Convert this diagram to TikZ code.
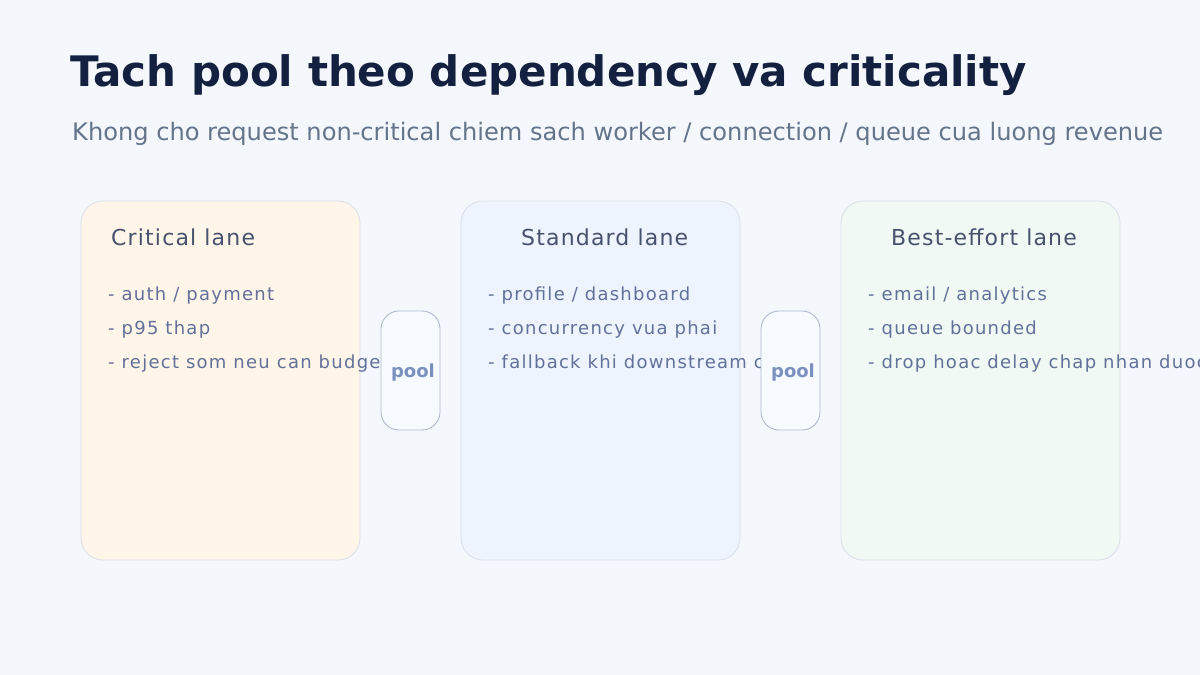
\documentclass[tikz,border=0pt]{standalone}
\usepackage{fontspec}
\setmainfont{DejaVu Sans}
\newfontfamily\bulletfont[LetterSpace=7]{DejaVu Sans}
\newfontfamily\lanefont[LetterSpace=5.3]{DejaVu Sans}
\definecolor{bg}{HTML}{F4F7FB}
\definecolor{titlec}{HTML}{13203F}
\definecolor{subc}{HTML}{64748B}
\definecolor{lanetc}{HTML}{46526E}
\definecolor{bulletc}{HTML}{62719A}
\definecolor{laneA}{HTML}{FFF5E8}
\definecolor{laneB}{HTML}{EEF4FE}
\definecolor{laneC}{HTML}{F0F9F3}
\definecolor{lanestroke}{HTML}{DCE1E9}
\definecolor{poolfill}{HTML}{F7FAFF}
\definecolor{poolstroke}{HTML}{B0BACE}
\definecolor{poolc}{HTML}{7A90C0}
\tikzset{
  lanebox/.style={draw=lanestroke, line width=0.9pt, rounded corners=22pt},
  poolbox/.style={draw=poolstroke, fill=poolfill, line width=0.9pt, rounded corners=18pt},
  lanetitle/.style={anchor=base west, inner sep=0pt, text=lanetc, font=\lanefont\fontsize{22}{26}\selectfont},
  bullet/.style={anchor=base west, inner sep=0pt, text=bulletc, font=\bulletfont\fontsize{18}{22}\selectfont},
  pooltext/.style={anchor=base, inner sep=0pt, text=poolc, font=\bfseries\fontsize{18}{21}\selectfont},
}
\begin{document}
\begin{tikzpicture}[x=1pt,y=-1pt]
\useasboundingbox (0,0) rectangle (1200,675);
\clip (0,0) rectangle (1200,675);
\fill[bg] (0,0) rectangle (1200,675);
% title
\node[anchor=base west, inner sep=0pt, text=titlec, font=\bfseries\fontsize{42}{48}\selectfont] (title) at (70,86) {Tach pool theo dependency va criticality};
\node[anchor=base west, inner sep=0pt, text=subc, font=\fontsize{24.1}{28}\selectfont] (subtitle) at (72,140) {Khong cho request non-critical chiem sach worker / connection / queue cua luong revenue};
% lanes
\draw[lanebox, fill=laneA] (81,201) rectangle (360,560);
\draw[lanebox, fill=laneB] (461,201) rectangle (740,560);
\draw[lanebox, fill=laneC] (841,201) rectangle (1120,560);
\node[lanetitle] (t1) at (111,245) {Critical lane};
\node[lanetitle] (t2) at (521,245) {Standard lane};
\node[lanetitle] (t3) at (891,245) {Best-effort lane};
% bullets
\node[bullet] (a1) at (108,300) {- auth / payment};
\node[bullet] (a2) at (108,334) {- p95 thap};
\node[bullet] (a3) at (108,368) {- reject som neu can budget};
\node[bullet] (b1) at (488,300) {- profile / dashboard};
\node[bullet] (b2) at (488,334) {- concurrency vua phai};
\node[bullet] (b3) at (488,368) {- fallback khi downstream cham};
\node[bullet] (c1) at (868,300) {- email / analytics};
\node[bullet] (c2) at (868,334) {- queue bounded};
\node[bullet] (c3) at (868,368) {- drop hoac delay chap nhan duoc};
% pools
\draw[poolbox] (381,311) rectangle (440,430);
\node[pooltext] (p1) at (413,377) {pool};
\draw[poolbox] (761,311) rectangle (820,430);
\node[pooltext] (p2) at (793,377) {pool};
\end{tikzpicture}
\end{document}
